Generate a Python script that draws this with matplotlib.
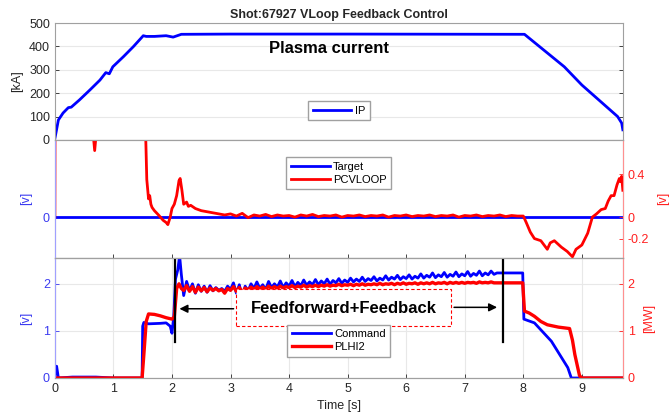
import numpy as np
import matplotlib
matplotlib.use("Agg")
import matplotlib.pyplot as plt
from matplotlib.patches import Rectangle

plt.rcParams['font.family'] = ['Liberation Sans', 'DejaVu Sans']

# ---- plasma current [kA]
ip_t = [0, 0.03, 0.06, 0.14, 0.23, 0.28, 0.42, 0.6, 0.77, 0.87, 0.93, 0.99, 1.17, 1.34,
        1.51, 1.56, 1.7, 1.9, 2.02, 2.16, 3.0, 5.0, 8.02, 8.7, 9.0, 9.61, 9.68, 9.7]
ip_v = [5, 45, 85, 115, 138, 140, 171, 214, 256, 288, 283, 313, 356, 399,
        446, 443, 443, 446, 440, 452, 453, 453, 452, 313, 235, 100, 72, 43]

# ---- loop voltage
target_t = [0, 9.7]
target_v = [0, 0]

pcv_t_head = [0.0, 0.005, 0.3, 0.6, 0.65, 0.68, 0.71, 0.75, 1.2, 1.54, 1.57, 1.6, 1.62, 1.64,
              1.66, 1.7, 1.77, 1.85, 1.9, 1.93, 1.97, 2.0, 2.04, 2.08, 2.12, 2.14, 2.17, 2.2,
              2.25, 2.28, 2.32, 2.4, 2.5, 2.6, 2.7, 2.8, 2.9]
pcv_v_head = [0.0, 1.5, 1.5, 1.2, 0.8, 0.62, 0.8, 1.2, 1.5, 1.0, 0.35, 0.17, 0.2, 0.12,
              0.09, 0.06, 0.02, -0.03, -0.05, -0.07, 0.0, 0.08, 0.12, 0.2, 0.34, 0.36, 0.25, 0.12,
              0.14, 0.1, 0.11, 0.08, 0.06, 0.05, 0.04, 0.03, 0.02]
pcv_v_flat = [0.03, 0.01, 0.035, -0.005, 0.02, 0.01, 0.025, 0.005, 0.02, 0.01,
              0.015, 0.0, 0.02, 0.01, 0.025, 0.005, 0.015, 0.01, 0.02, 0.0,
              0.015, 0.01, 0.02, 0.005, 0.015, 0.01, 0.02, 0.0, 0.015, 0.01,
              0.02, 0.005, 0.015, 0.01, 0.02, 0.005, 0.015, 0.01, 0.02, 0.0,
              0.015, 0.01, 0.02, 0.005, 0.015, 0.01, 0.02, 0.005, 0.015, 0.01]
pcv_t_tail = [8.0, 8.05, 8.12, 8.19, 8.3, 8.41, 8.46, 8.53, 8.65, 8.75, 8.84, 8.9, 9.0,
              9.1, 9.18, 9.25, 9.33, 9.4, 9.45, 9.5, 9.55, 9.6, 9.64, 9.66, 9.68, 9.7]
pcv_v_tail = [0.01, -0.05, -0.14, -0.2, -0.22, -0.3, -0.24, -0.22, -0.28, -0.32, -0.37, -0.3, -0.26,
              -0.15, 0.0, 0.03, 0.07, 0.08, 0.15, 0.2, 0.2, 0.3, 0.36, 0.33, 0.38, 0.25]

# ---- heating command [v] and PLHI2 [MW]
cmd_t_head = [0, 0.01, 0.03, 0.06, 0.3, 0.7, 1.0, 1.49, 1.5, 1.52, 1.6, 1.8, 1.9, 1.97,
              2.0, 2.03, 2.06, 2.1, 2.13, 2.16]
cmd_v_head = [0.0, 0.2, 0.25, 0.0, 0.02, 0.02, 0.0, 0.0, 1.1, 1.18, 1.15, 1.16, 1.17, 1.1,
              0.95, 1.3, 2.1, 2.3, 2.6, 2.2]
cmd_v_mid = [1.75, 2.05, 1.85, 2.00, 1.80, 1.98, 1.84, 1.95, 1.82, 1.96,
             1.85, 1.92, 1.86, 1.90, 1.84, 1.95, 1.88, 2.02, 1.80, 1.98,
             1.72, 1.95, 1.85, 2.00, 1.90, 2.04, 1.90, 1.98, 1.88, 2.05,
             1.92, 2.00, 1.93, 2.06, 1.92, 2.02, 1.95, 2.07, 1.94, 2.03,
             1.96, 2.08, 1.97, 2.04, 1.98, 2.09, 1.98, 2.06, 2.00, 2.10,
             1.99, 2.07, 2.02, 2.11, 2.01, 2.08, 2.03, 2.12, 2.04, 2.10,
             2.05, 2.14, 2.05, 2.11, 2.07, 2.15, 2.06, 2.12, 2.08, 2.17,
             2.08, 2.14, 2.10, 2.18, 2.09, 2.15, 2.11, 2.19, 2.10, 2.16,
             2.12, 2.21, 2.12, 2.18, 2.14, 2.23, 2.13, 2.19, 2.15, 2.24,
             2.14, 2.20, 2.16, 2.25, 2.15, 2.21, 2.17, 2.26, 2.16, 2.22,
             2.18, 2.27, 2.17, 2.23, 2.19, 2.27, 2.20]
cmd_t_tail = [7.55, 7.99, 8.01, 8.19, 8.48, 8.76, 8.82, 9.7]
cmd_v_tail = [2.23, 2.23, 1.25, 1.17, 0.78, 0.22, 0.0, 0.0]

pl_t_head = [0, 1.49, 1.52, 1.56, 1.6, 1.7, 1.8, 1.9, 2.0, 2.04, 2.08, 2.12, 2.16]
pl_v_head = [0, 0, 0.5, 1.2, 1.36, 1.35, 1.32, 1.28, 1.25, 1.3, 1.9, 2.0, 1.9]
pl_v_mid = [1.86, 1.96, 1.84, 1.94, 1.82, 1.93, 1.85, 1.92, 1.83, 1.91,
            1.86, 1.90, 1.85, 1.88, 1.80, 1.90, 1.86, 1.94, 1.84, 1.92,
            1.82, 1.91, 1.87, 1.93, 1.88, 1.94, 1.89, 1.93, 1.88, 1.95,
            1.90, 1.94, 1.90, 1.95, 1.91, 1.94, 1.92, 1.96, 1.92, 1.95,
            1.93, 1.97, 1.93, 1.96, 1.94, 1.97, 1.94, 1.97, 1.95, 1.98,
            1.95, 1.97, 1.96, 1.99, 1.96, 1.98, 1.97, 1.99, 1.96, 1.99,
            1.97, 2.00, 1.97, 1.99, 1.98, 2.00, 1.98, 2.01, 1.98, 2.00,
            1.99, 2.01, 1.98, 2.01, 1.99, 2.02, 1.99, 2.01, 2.00, 2.02,
            1.99, 2.02, 2.00, 2.02, 2.00, 2.03, 2.00, 2.02, 2.01, 2.03,
            2.00, 2.03, 2.01, 2.03, 2.01, 2.03, 2.01, 2.03, 2.02, 2.03,
            2.01, 2.04, 2.02, 2.03, 2.02, 2.04, 2.02]
pl_t_tail = [7.55, 7.99, 8.02, 8.1, 8.19, 8.3, 8.41, 8.6, 8.79, 8.84, 8.88, 8.96, 9.0, 9.7]
pl_v_tail = [2.02, 2.02, 1.42, 1.38, 1.31, 1.2, 1.13, 1.08, 1.05, 0.8, 0.5, 0.05, 0.0, 0.0]

t_flat = np.round(np.arange(3.0, 7.95, 0.1), 2)
t_mid = np.round(np.arange(2.2, 7.51, 0.05), 2)

pcv_t = np.concatenate([pcv_t_head, t_flat, pcv_t_tail])
pcv_v = np.concatenate([pcv_v_head, pcv_v_flat, pcv_v_tail])
cmd_t = np.concatenate([cmd_t_head, t_mid, cmd_t_tail])
cmd_v = np.concatenate([cmd_v_head, cmd_v_mid, cmd_v_tail])
pl_t = np.concatenate([pl_t_head, t_mid, pl_t_tail])
pl_v = np.concatenate([pl_v_head, pl_v_mid, pl_v_tail])

BLUE = '#0000ff'
RED = '#ff0000'
GREY = '#a0a0a0'
TXT = '#262626'
LBLUE = '#3b3bf0'
LRED = '#ff2020'
xmax = 9.7

fig = plt.figure(figsize=(6.69, 4.2), dpi=100)
ax1 = fig.add_axes([0.082, 0.667, 0.849, 0.278])
ax2 = fig.add_axes([0.082, 0.386, 0.849, 0.281])
ax3 = fig.add_axes([0.082, 0.100, 0.849, 0.286])


def style(ax, grid_x=True, grid_y=True):
    ax.set_xlim(0, xmax)
    ax.set_xticks(range(0, 10))
    ax.tick_params(direction='in', length=3, labelsize=9, colors=TXT, width=0.6)
    for s in ax.spines.values():
        s.set_color(GREY)
        s.set_linewidth(0.8)
    if grid_y:
        ax.yaxis.grid(True, color='#e8e8e8', lw=0.8)
    if grid_x:
        ax.xaxis.grid(True, color='#e8e8e8', lw=0.8)
    ax.set_axisbelow(True)


# top panel
style(ax1, grid_x=False)
ax1.plot(ip_t, ip_v, color=BLUE, lw=2, label='IP')
ax1.set_ylim(0, 500)
ax1.set_yticks([0, 100, 200, 300, 400, 500])
ax1.tick_params(axis='x', labelbottom=False, length=0)
ax1.tick_params(axis='y', right=True)
ax1.set_ylabel('[kA]', fontsize=9, color=TXT, labelpad=4)
ax1.set_title('Shot:67927 VLoop Feedback Control', fontsize=9, fontweight='bold', color=TXT, pad=4)
ax1.text(4.69, 393, 'Plasma current', fontsize=12, fontweight='bold', ha='center', va='center')
ax1.legend(loc='lower center', bbox_to_anchor=(0.5, 0.12), fontsize=8, handlelength=3.5,
           handletextpad=0.3, fancybox=False, edgecolor=GREY, framealpha=1, borderpad=0.4)

# middle panel
style(ax2, grid_x=False, grid_y=False)
ax2r = ax2.twinx()
style(ax2r, grid_x=False, grid_y=False)
l1, = ax2.plot(target_t, target_v, color=BLUE, lw=2, label='Target')
l2, = ax2r.plot(pcv_t, pcv_v, color=RED, lw=2, label='PCVLOOP')
ylim_mid = (-0.38, 0.72)
ax2.set_ylim(*ylim_mid)
ax2r.set_ylim(*ylim_mid)
ax2.set_yticks([0])
ax2r.set_yticks([-0.2, 0, 0.4])
ax2r.set_yticklabels(['-0.2', '0', '0.4'])
ax2.tick_params(axis='x', labelbottom=False, top=False)
ax2.tick_params(axis='y', colors=LBLUE)
ax2r.tick_params(axis='y', colors=LRED)
ax2.set_ylabel('[v]', fontsize=9, color=LBLUE, labelpad=8)
ax2r.set_ylabel('[v]', fontsize=9, color=LRED, labelpad=6)
ax2r.spines['left'].set_color('#a0a0ff')
ax2r.spines['right'].set_color('#ff9090')
ax2r.legend(handles=[l1, l2], loc='upper center', bbox_to_anchor=(0.5, 0.9), fontsize=8,
            handlelength=3.5, handletextpad=0.3, fancybox=False, edgecolor=GREY,
            framealpha=1, borderpad=0.4, labelspacing=0.3)

# bottom panel
style(ax3)
ax3r = ax3.twinx()
style(ax3r, grid_x=False, grid_y=False)
l3, = ax3.plot(cmd_t, cmd_v, color=BLUE, lw=2, label='Command')
l4, = ax3r.plot(pl_t, pl_v, color=RED, lw=2.4, label='PLHI2')
ax3.set_ylim(0, 2.55)
ax3r.set_ylim(0, 2.55)
ax3.set_yticks([0, 1, 2])
ax3r.set_yticks([0, 1, 2])
ax3.tick_params(axis='y', colors=LBLUE)
ax3r.tick_params(axis='y', colors=LRED)
ax3.tick_params(axis='x', colors=TXT, top=False)
ax3.set_ylabel('[v]', fontsize=9, color=LBLUE, labelpad=8)
ax3r.set_ylabel('[MW]', fontsize=9, color=LRED, labelpad=6)
ax3.set_xlabel('Time [s]', fontsize=9, color=TXT, labelpad=4)
ax3r.spines['left'].set_color('#a0a0ff')
ax3r.spines['right'].set_color('#ff9090')

# feedback window annotation
ax3r.plot([2.05, 2.05], [0.76, 2.55], color='black', lw=1.6)
ax3r.plot([7.65, 7.65], [0.76, 2.55], color='black', lw=1.6)
ax3r.add_patch(Rectangle((3.1, 1.11), 3.67, 0.77, fill=True, facecolor='white',
                         edgecolor=RED, ls=(0, (3, 2)), lw=0.8, zorder=4))
ax3r.text(4.93, 1.47, 'Feedforward+Feedback', fontsize=12, fontweight='bold',
          ha='center', va='center', zorder=5)
ax3r.annotate('', xy=(2.08, 1.47), xytext=(3.1, 1.47),
              arrowprops=dict(arrowstyle='-|>', color='black', lw=1.1, mutation_scale=12))
ax3r.annotate('', xy=(7.6, 1.5), xytext=(6.77, 1.5),
              arrowprops=dict(arrowstyle='-|>', color='black', lw=1.1, mutation_scale=12))
ax3r.legend(handles=[l3, l4], loc='lower center', bbox_to_anchor=(0.5, 0.13), fontsize=8,
            handlelength=3.5, handletextpad=0.3, fancybox=False, edgecolor=GREY,
            framealpha=1, borderpad=0.4, labelspacing=0.3)

fig.savefig('out.png', dpi=100)
